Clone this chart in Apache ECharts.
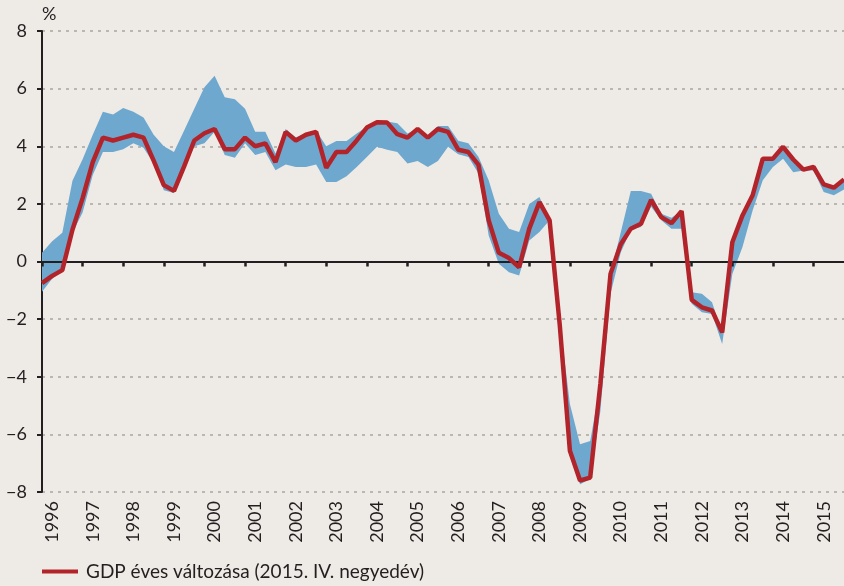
<!DOCTYPE html>
<html>
<head>
<meta charset="utf-8">
<script src="https://cdn.jsdelivr.net/npm/echarts@6/dist/echarts.min.js"></script>
<style>
  html, body { margin: 0; padding: 0; background: #eeeae6; }
  #chart { width: 844px; height: 586px; }
</style>
</head>
<body>
<div id="chart"></div>
<script>
// évek és negyedévek
const years = ['1996', '1997', '1998', '1999', '2000', '2001', '2002', '2003', '2004', '2005',
  '2006', '2007', '2008', '2009', '2010', '2011', '2012', '2013', '2014', '2015']
const quarterNames = ['I.', 'II.', 'III.', 'IV.']

// GDP éves változása (2015. IV. negyedéves adatközlés), %
const gdpChange = [
  -0.75, -0.5, -0.3, 1.1, 2.2, 3.45, 4.3, 4.2, 4.3, 4.4,
  4.3, 3.5, 2.65, 2.45, 3.3, 4.2, 4.45, 4.6, 3.9, 3.9,
  4.3, 4.0, 4.1, 3.45, 4.5, 4.2, 4.4, 4.5, 3.25, 3.8,
  3.8, 4.2, 4.65, 4.83, 4.82, 4.42, 4.3, 4.6, 4.3, 4.6,
  4.5, 3.88, 3.8, 3.35, 1.43, 0.3, 0.12, -0.2, 1.14, 2.06,
  1.43, -2.2, -6.57, -7.6, -7.5, -4.25, -0.43, 0.59, 1.14, 1.31,
  2.14, 1.54, 1.33, 1.75, -1.33, -1.59, -1.7, -2.46, 0.67, 1.6,
  2.3, 3.57, 3.57, 3.98, 3.54, 3.19, 3.28, 2.68, 2.56, 2.85
]

// korábbi adatközlések sávja: felső és alsó határ, %
const bandHigh = [
  0.3, 0.7, 1.0, 2.8, 3.55, 4.4, 5.2, 5.1, 5.33, 5.2,
  5.0, 4.4, 4.0, 3.8, 4.55, 5.3, 6.05, 6.45, 5.7, 5.63,
  5.3, 4.5, 4.5, 3.75, 4.6, 4.3, 4.45, 4.55, 4.0, 4.18,
  4.18, 4.44, 4.68, 4.9, 4.86, 4.8, 4.44, 4.62, 4.38, 4.7,
  4.7, 4.19, 4.1, 3.63, 2.82, 1.66, 1.14, 1.02, 2.0, 2.24,
  1.43, -2.05, -4.95, -6.34, -6.23, -4.25, -0.43, 1.0, 2.45, 2.45,
  2.35, 1.66, 1.52, 1.75, -1.07, -1.12, -1.41, -2.46, 0.67, 1.6,
  2.3, 3.57, 3.6, 3.98, 3.54, 3.19, 3.28, 2.68, 2.56, 2.85
]
const bandLow = [
  -1.05, -0.6, -0.35, 1.0, 1.7, 3.0, 3.8, 3.8, 3.9, 4.1,
  3.95, 3.4, 2.47, 2.38, 3.25, 4.0, 4.1, 4.5, 3.7, 3.6,
  4.1, 3.7, 3.8, 3.17, 3.37, 3.28, 3.28, 3.37, 2.76, 2.76,
  2.96, 3.28, 3.63, 3.98, 3.88, 3.8, 3.4, 3.49, 3.28, 3.49,
  3.98, 3.72, 3.63, 3.05, 0.9, -0.08, -0.37, -0.49, 0.73, 1.02,
  1.43, -2.3, -6.7, -7.73, -7.55, -5.2, -1.12, 0.3, 1.1, 1.2,
  1.9, 1.43, 1.14, 1.14, -1.47, -1.76, -1.82, -2.86, -0.43, 0.5,
  1.77, 2.82, 3.28, 3.57, 3.1, 3.16, 3.16, 2.41, 2.3, 2.5
]

// y tengely
const yMin = -8
const yMax = 8
const yStep = 2

const seriesName = 'GDP éves változása (2015. IV. negyedév)'
const redColor = '#b2242a'
const bandColor = '#6fa8cf'
const inkColor = '#231f20'
const fontFamily = 'Lato, "Open Sans", sans-serif'

const categories = []
years.forEach((y) => quarterNames.forEach((q) => categories.push(y + ' ' + q)))

// a sáv vastagsága (stackelve az alsó határra)
const bandSpread = bandHigh.map((v, i) => +(v - bandLow[i]).toFixed(2))

const chart = echarts.init(document.getElementById('chart'))

chart.setOption({
  backgroundColor: '#eeeae6',
  animation: false,
  textStyle: { fontFamily: fontFamily },
  grid: { left: 42, right: -5, top: 31, bottom: 94, containLabel: false },
  legend: {
    data: [seriesName],
    left: 37,
    bottom: 0,
    icon: 'rect',
    itemWidth: 36,
    itemHeight: 4,
    textStyle: { color: inkColor, fontSize: 19, fontFamily: fontFamily, padding: [0, 0, 0, 3] },
  },
  xAxis: [
    {
      // a nulla vonal a negyedéves osztásokkal
      type: 'category',
      data: categories,
      boundaryGap: false,
      z: 3,
      axisLine: { onZero: true, lineStyle: { color: inkColor, width: 2 } },
      axisTick: {
        show: true,
        interval: (i) => i % 4 === 0,
        length: 5,
        lineStyle: { color: inkColor, width: 2.5 },
      },
      axisLabel: { show: false },
      splitLine: { show: false },
    },
    {
      // évszámok a diagram alján
      type: 'category',
      data: categories,
      boundaryGap: false,
      position: 'bottom',
      axisLine: { show: false, onZero: false },
      axisTick: { show: false },
      axisLabel: {
        show: true,
        interval: (i) => i % 4 === 1,
        formatter: (v) => v.slice(0, 4),
        rotate: 90,
        margin: 9,
        color: inkColor,
        fontSize: 18,
        fontFamily: fontFamily,
      },
      splitLine: { show: false },
    },
  ],
  yAxis: {
    type: 'value',
    min: yMin,
    max: yMax,
    interval: yStep,
    name: '%',
    nameLocation: 'end',
    nameGap: 8,
    nameTextStyle: { color: inkColor, fontSize: 18, align: 'left', fontFamily: fontFamily },
    axisLine: { show: true, lineStyle: { color: inkColor, width: 2 } },
    axisTick: { show: true, length: 5, lineStyle: { color: inkColor, width: 2 } },
    axisLabel: {
      color: inkColor,
      fontSize: 18,
      margin: 15,
      fontFamily: fontFamily,
      formatter: (v) => String(v).replace('-', '\u2212'),
    },
    splitLine: {
      show: true,
      lineStyle: { color: '#a9a6a3', width: 1.5, type: [3, 5] },
    },
  },
  series: [
    {
      name: 'sáv alja',
      type: 'line',
      data: bandLow,
      stack: 'sav',
      stackStrategy: 'all',
      symbol: 'none',
      silent: true,
      lineStyle: { opacity: 0 },
      z: 2,
    },
    {
      name: 'sáv',
      type: 'line',
      data: bandSpread,
      stack: 'sav',
      stackStrategy: 'all',
      symbol: 'none',
      silent: true,
      lineStyle: { opacity: 0 },
      areaStyle: { color: bandColor, opacity: 1 },
      z: 2,
    },
    {
      name: seriesName,
      type: 'line',
      data: gdpChange,
      symbol: 'none',
      lineStyle: { color: redColor, width: 4.5 },
      itemStyle: { color: redColor },
      z: 4,
    },
  ],
})
</script>
</body>
</html>
